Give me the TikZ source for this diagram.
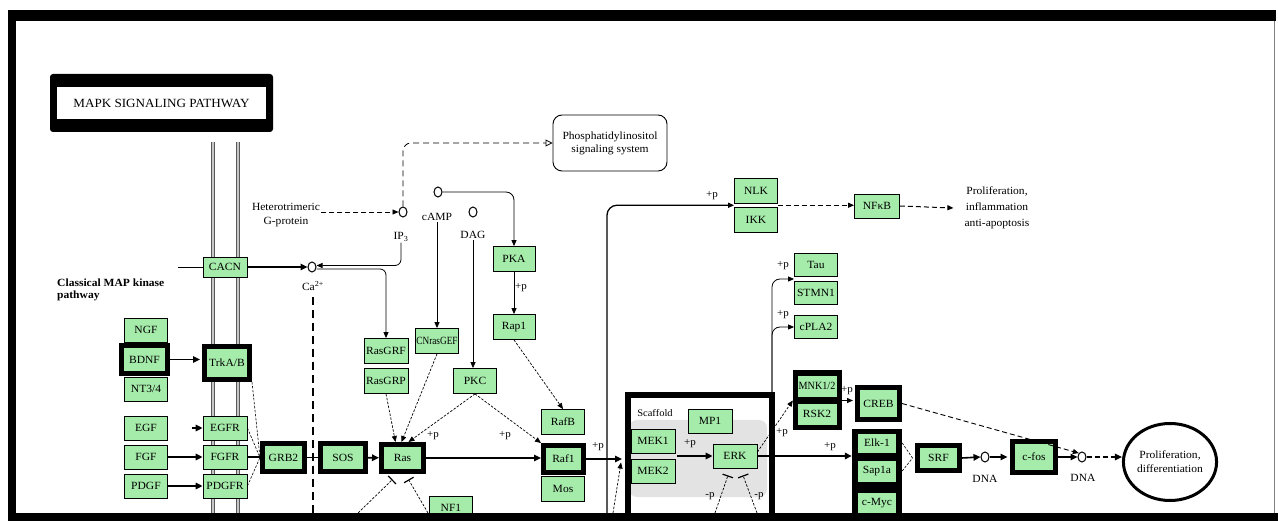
\documentclass[tikz,border=0pt]{standalone}
\usepackage{fontspec}
\setmainfont{Liberation Serif}[FakeStretch=1.05]
\usepackage{graphicx}
\usetikzlibrary{arrows.meta,calc,shapes.geometric}
\definecolor{kgreen}{RGB}{165,235,170}
\begin{document}
\begin{tikzpicture}[x=1pt,y=-1pt,
  gbox/.style={draw=black, fill=kgreen, line width=0.8pt, minimum width=43pt, minimum height=24pt, inner sep=0pt, font=\fontsize{11}{11}\selectfont},
  tbox/.style={gbox, line width=5pt},
  met/.style={draw=black, line width=1pt, ellipse, minimum width=8pt, minimum height=10pt, inner sep=0pt},
  lab/.style={font=\fontsize{11}{14}\selectfont, inner sep=1pt},
  plab/.style={font=\fontsize{10.5}{10}\selectfont, inner sep=0pt},
  arr/.style={line width=1.6pt, -{Triangle[length=7pt,width=6.5pt]}},
  tarr/.style={line width=0.8pt, -{Triangle[length=6pt,width=5pt]}},
  darr/.style={line width=0.9pt, dash pattern=on 5pt off 3pt, -{Triangle[length=6pt,width=5pt]}},
  fdarr/.style={line width=0.7pt, dash pattern=on 2.5pt off 1.5pt, -{Triangle[length=6pt,width=5pt]}},
  dline/.style={line width=0.6pt, dash pattern=on 2.5pt off 1.5pt},
  inh/.style={line width=0.7pt, dash pattern=on 2.5pt off 1.5pt, -{Bar[width=11pt,line width=1.2pt]}},
  memb/.style={draw=gray!70!black, double=gray!45, double distance=2pt, line width=0.6pt}
]
\useasboundingbox (0,0) rectangle (1278,521);
\fill[white] (0,0) rectangle (1278,521);

% membrane
\draw[memb] (213,142) -- (213,513);
\draw[memb] (238,142) -- (238,513);

% title
\fill[black, rounded corners=3pt] (50,74) rectangle (273,132);
\node[fill=white, minimum width=209pt, minimum height=32pt, inner sep=0pt, font=\fontsize{12.5}{13}\selectfont] (title) at (161.5,103) {MAPK SIGNALING PATHWAY};

% small metabolites
\node[lab, align=center] (het) at (286,215) {Heterotrimeric\\G-protein};
\node[met] (ip3) at (403,212) {};
\node[lab] (ip3l) at (401,237) {IP\textsubscript{3}};
\node[met] (camp) at (438,192) {};
\node[lab] (campl) at (437,217) {cAMP};
\node[met] (dag) at (473,212) {};
\node[lab] (dagl) at (473,235) {DAG};
\node[met] (ca) at (312,267) {};
\node[lab] (cal) at (313,286) {Ca\textsuperscript{2+}};

\node[draw, rounded corners=9pt, line width=0.9pt, minimum width=114pt, minimum height=56pt, align=center, font=\fontsize{11}{13}\selectfont] (pi) at (610,143) {Phosphatidylinositol\\signaling system};

\draw[darr] (het.east |- ip3.west) -- (ip3.west);
\draw[line width=0.8pt, dash pattern=on 6pt off 4pt, rounded corners=8pt, -{Triangle[open,length=7pt,width=7pt]}] (ip3.north) |- (pi.west);

% CACN
\node[gbox, minimum width=44pt, minimum height=20pt] (CACN) at (225,267) {CACN};
\coordinate (cin) at (178,267);
\draw[line width=0.9pt] (cin) -- (CACN.west);
\draw[arr] (CACN.east) -- (ca.west);

\node[font=\bfseries\fontsize{11}{12}\selectfont, align=left, anchor=north west, inner sep=0pt] (cl) at (57,279) {Classical MAP kinase\\pathway};

% left ligands/receptors
\node[gbox] (NGF) at (146,330) {NGF};
\node[gbox] (NT34) at (146,389) {NT3/4};
\node[tbox, minimum width=46pt, minimum height=28pt] (BDNF) at (144.5,359.5) {BDNF};
\node[gbox] (EGF) at (146,428) {EGF};
\node[gbox] (FGF) at (146,457) {FGF};
\node[gbox] (PDGF) at (146,486) {PDGF};
\node[tbox, minimum width=45pt, minimum height=33pt] (TrkAB) at (227,363) {TrkA/B};
\node[gbox, minimum width=44pt] (EGFR) at (225,428) {EGFR};
\node[gbox, minimum width=44pt] (FGFR) at (225,457) {FGFR};
\node[gbox, minimum width=44pt] (PDGFR) at (225,486) {PDGFR};

\draw[arr, shorten >=2pt] (BDNF.east) -- (TrkAB.west |- BDNF.east);
\draw[arr] ([xshift=-11pt]EGFR.west) -- (EGFR.west);
\draw[arr] (FGF) -- (FGFR);
\draw[arr] (PDGF) -- (PDGFR);

\node[tbox, minimum width=42pt, minimum height=28pt] (GRB2) at (283.5,457.5) {GRB2};
\node[tbox, minimum width=45pt, minimum height=28pt] (SOS) at (343,457.5) {SOS};
\node[tbox, minimum width=42pt, minimum height=27pt] (Ras) at (402.5,458) {Ras};

\draw[line width=1.4pt] (FGFR.east) -- (GRB2.west |- FGFR.east);
\draw[dline] (TrkAB.south east) -- (GRB2.west);
\draw[dline] (EGFR.east) -- (GRB2.west);
\draw[dline] (PDGFR.east) -- (GRB2.west);
\draw[line width=1.4pt] (GRB2) -- (SOS);
\draw[arr] (SOS) -- (Ras);

\coordinate (cab) at (312,513);
\draw[line width=1.1pt, dash pattern=on 8pt off 5pt] ([yshift=-5pt]cal.south) -- (cal.south |- cab);

\draw[tarr, rounded corners=6pt] (ip3l.south) |- ([yshift=1.5pt]ca.east);

% middle
\node[gbox, minimum width=44pt, minimum height=25pt] (RasGRF) at (386,351) {RasGRF};
\node[gbox, minimum width=44pt, minimum height=25pt] (RasGRP) at (386,381) {RasGRP};
\node[gbox, minimum height=25pt] (CNras) at (437,341) {\scalebox{0.8}[1]{CNrasGEF}};
\node[gbox, minimum height=25pt] (PKC) at (475,381) {PKC};
\node[gbox, minimum width=42pt, minimum height=25pt] (PKA) at (514,259) {PKA};
\node[gbox, minimum width=42pt, minimum height=25pt] (Rap1) at (514,327) {Rap1};
\node[gbox, minimum height=25pt] (RafB) at (563,422) {RafB};
\node[tbox, minimum width=40pt, minimum height=27pt] (Raf1) at (563.5,459) {Raf1};
\node[gbox, minimum height=25pt] (Mos) at (563,489) {Mos};
\node[gbox] (NF1) at (451,508) {NF1};

\draw[tarr, rounded corners=6pt] ([yshift=-2pt]ca.east) -| (RasGRF.north);
\draw[fdarr] (RasGRP.south) -- ([xshift=-7pt]Ras.north);
\draw[fdarr] (CNras.south) -- ([xshift=-1pt]Ras.north);
\draw[fdarr] (PKC.south) -- ([xshift=6pt]Ras.north);
\node[plab] at (433,436) {+p};
\draw[fdarr] (PKC.south) -- (Raf1.north west);
\node[plab] at (505,436) {+p};
\draw[tarr] (campl.south) -- (CNras.north);
\draw[tarr] (dagl.south) -- (dagl.south |- PKC.north);
\draw[tarr, rounded corners=8pt] (camp.east) -| (PKA.north);
\draw[tarr] (PKA) -- (Rap1);
\node[plab] at (521,288) {+p};
\draw[fdarr] (Rap1.south) -- (RafB.north);
\draw[arr] (Ras.east) -- (Ras.east -| Raf1.west);

\coordinate (rb1) at (358,513);
\coordinate (rb2) at (428,513);
\draw[inh] (rb1) -- ([xshift=-10pt,yshift=-5.5pt]Ras.south);
\draw[inh] (rb2) -- ([xshift=6pt,yshift=-5.5pt]Ras.south);

% scaffold
\fill[gray!22, rounded corners=8pt] (629,420) rectangle (767,497);
\node[draw=black, line width=6pt, minimum width=144pt, minimum height=135pt, inner sep=0pt] (scaf) at (700,462.5) {};
\node[font=\fontsize{10}{10}\selectfont, inner sep=0pt] (scl) at (655,413) {Scaffold};
\node[gbox, minimum width=44pt] (MEK1) at (653,441) {MEK1};
\node[gbox, minimum width=44pt] (MEK2) at (653,471) {MEK2};
\node[gbox, minimum width=44pt] (MP1) at (710,421) {MP1};
\node[gbox, minimum width=44pt] (ERK) at (735,456) {ERK};

\coordinate (mekout) at ($(MEK1.south east)!0.5!(MEK2.north east)$);
\draw[arr] ([xshift=2pt]mekout) -- (mekout -| ERK.west);
\node[plab] at (690,444) {+p};
\draw[arr, shorten >=3pt] (Raf1.east) -- (Raf1.east -| scaf.west);
\node[plab] at (598,447) {+p};
\coordinate (sb) at (613,513);
\draw[fdarr] (sb) -- ([xshift=-4pt]scaf.west);

\coordinate (eb1) at (715,513);
\coordinate (eb2) at (757,513);
\draw[inh] (eb1) -- ([xshift=-7pt,yshift=-7pt]ERK.south);
\draw[inh] (eb2) -- ([xshift=8pt,yshift=-7pt]ERK.south);
\node[plab] at (710,496) {-p};
\node[plab] at (759,496) {-p};

% MNK / RSK
\node[fill=black, minimum width=49pt, minimum height=60pt, inner sep=0pt] (mnkg) at (817.5,400.5) {};
\node[gbox, minimum width=40pt, minimum height=22pt] (MNK) at (817,386) {\scalebox{0.88}[1]{MNK1/2}};
\node[gbox, minimum width=40pt, minimum height=22pt] (RSK2) at (817,414) {RSK2};
\draw[fdarr] ([yshift=4pt]ERK.east) -- (mnkg.west);
\node[plab] at (782,433) {+p};

% Elk group
\node[fill=black, minimum width=50pt, minimum height=86pt, inner sep=0pt] (elkg) at (877,472) {};
\node[gbox, minimum width=39pt, minimum height=20pt] (Elk1) at (877,443) {Elk-1};
\node[gbox, minimum width=39pt, minimum height=22pt] (Sap1a) at (877,471) {Sap1a};
\node[gbox, minimum width=39pt, minimum height=22pt] (cMyc) at (877,503) {c-Myc};
\draw[arr] (ERK.east) -- (ERK.east -| elkg.west);
\node[plab] at (830,447) {+p};

\node[tbox, minimum width=42pt, minimum height=32pt] (CREB) at (878.5,403.5) {CREB};
\draw[tarr, line width=1.2pt, shorten >=2pt] (mnkg.east) -- (mnkg.east -| CREB.west);
\node[plab] at (847,391) {+p};

\node[tbox, minimum width=42pt, minimum height=25pt] (SRF) at (938.5,458) {SRF};
\draw[dline] (Elk1.east -| elkg.east) -- ([xshift=-2.5pt]SRF.west);
\draw[dline] (Sap1a.east -| elkg.east) -- ([xshift=-2.5pt]SRF.west);

\node[met] (dna1) at (985,457) {};
\node[lab] (dna1l) at (985,479) {DNA};
\draw[arr] (SRF.east) -- (dna1.west);
\node[tbox, minimum width=43pt, minimum height=31pt] (cfos) at (1034,457) {c-fos};
\draw[arr] (dna1.east) -- ([xshift=-2.5pt]cfos.west);
\node[met] (dna2) at (1082,457) {};
\node[lab] (dna2l) at (1083,478) {DNA};
\draw[arr] (cfos.east) -- (dna2.west);
\draw[darr] (CREB.east) -- (dna2.north west);

\node[draw, ellipse, line width=3pt, minimum width=92pt, minimum height=77pt, align=center, inner sep=0pt, font=\fontsize{11}{14}\selectfont] (prol2) at (1170,462) {Proliferation,\\differentiation};
\draw[line width=1.4pt, dash pattern=on 5pt off 3pt, -{Triangle[length=7pt,width=6.5pt]}] (dna2.east) -- (dna2.east -| prol2.west);

% NLK / IKK / NFkB
\node[gbox, minimum height=25pt] (NLK) at (756,190.5) {NLK};
\node[gbox, minimum height=25pt] (IKK) at (756,220) {IKK};
\coordinate (nlkin) at ($(NLK.south west)!0.5!(IKK.north west)$);
\coordinate (bigb) at (607,513);
\draw[tarr, line width=1.3pt, rounded corners=10pt] (bigb) |- (nlkin);
\node[plab] at (712,196) {+p};
\coordinate (nlkout) at ($(NLK.south east)!0.5!(IKK.north east)$);
\node[gbox, minimum width=45pt] (NFkB) at (877,206) {NFκB};
\draw[darr, line width=1pt] (nlkout) -- (nlkout -| NFkB.west);
\node[lab, align=center, font=\fontsize{11}{16}\selectfont] (prol1) at (997,208) {Proliferation,\\inflammation\\anti-apoptosis};
\draw[darr, line width=1pt] (NFkB.east) -- ([xshift=-10pt]prol1.west);

% Tau / STMN1 / cPLA2
\node[gbox, minimum height=23pt] (Tau) at (816,265) {Tau};
\node[gbox, minimum height=23pt] (STMN1) at (816,293) {STMN1};
\node[gbox, minimum height=23pt] (cPLA2) at (816,327) {cPLA2};
\coordinate (erkup) at (772,392);
\coordinate (tauin) at ($(Tau.south west)!0.5!(STMN1.north west)$);
\draw[tarr, rounded corners=8pt] (erkup) |- (tauin);
\draw[tarr, rounded corners=8pt] (erkup) |- (cPLA2.west);
\node[plab] at (783,266) {+p};
\node[plab] at (783,315) {+p};

% frame
\fill[black] (8,10) rectangle (1276,21);
\fill[black] (8,10) rectangle (16,521);
\fill[black] (8,513) rectangle (1278,521);
\draw[gray, line width=0.8pt] (1274,21) -- (1274,513);
\end{tikzpicture}
\end{document}
